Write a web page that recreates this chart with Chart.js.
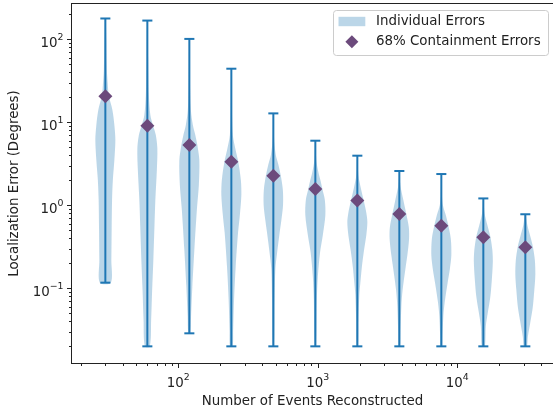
<!DOCTYPE html>
<html>
<head>
<meta charset="utf-8">
<title>Localization error vs. number of events</title>
<script src="https://cdn.jsdelivr.net/npm/chart.js@4/dist/chart.umd.min.js"></script>
<style>
  html, body { margin: 0; padding: 0; background: #ffffff; overflow: hidden; }
  canvas { display: block; }
</style>
</head>
<body>
<canvas id="chart" width="553" height="410"></canvas>
<script>
// Number of reconstructed events in each trial (violin positions)
const eventCounts = [30, 60, 120, 240, 480, 960, 1920, 3840, 7680, 15360, 30720];

// 68% containment error per trial (degrees)
const containment68 = [20.6, 9.1, 5.33, 3.35, 2.27, 1.57, 1.14, 0.786, 0.568, 0.411, 0.312];

// Extremes of the individual errors per trial (degrees)
const errorMax = [178, 168, 101, 44.2, 12.8, 6.0, 3.96, 2.59, 2.38, 1.21, 0.78];
const errorMin = [0.117, 0.02, 0.0287, 0.02, 0.02, 0.02, 0.02, 0.02, 0.02, 0.02, 0.02];

// Error levels (degrees) along each violin, top to bottom
const violinLevels = [
  [178, 98, 43, 28, 20.7, 14.2, 9.3, 6.1, 3.5, 2.02, 1.16, 0.51, 0.22, 0.117],
  [168, 56, 21.3, 12.2, 9.3, 7.0, 4.8, 2.66, 1.16, 0.51, 0.22, 0.096, 0.042, 0.02],
  [101, 32, 14.2, 9.3, 7.0, 5.3, 3.5, 1.76, 0.88, 0.29, 0.105, 0.046, 0.0287],
  [44.2, 14.2, 7.0, 4.8, 3.3, 2.02, 1.33, 0.76, 0.47, 0.18, 0.073, 0.031, 0.02],
  [12.8, 6.1, 4.0, 3.1, 2.25, 1.53, 1.01, 0.66, 0.44, 0.27, 0.17, 0.073, 0.02],
  [6.0, 3.5, 2.52, 1.91, 1.57, 1.16, 0.76, 0.44, 0.27, 0.138, 0.073, 0.02],
  [3.96, 2.32, 1.61, 1.13, 0.81, 0.63, 0.44, 0.29, 0.18, 0.127, 0.084, 0.042, 0.02],
  [2.59, 1.76, 1.16, 0.78, 0.54, 0.39, 0.25, 0.18, 0.096, 0.06, 0.031, 0.02],
  [2.38, 1.33, 1.01, 0.76, 0.57, 0.39, 0.25, 0.17, 0.117, 0.067, 0.046, 0.027, 0.02],
  [1.21, 0.81, 0.58, 0.42, 0.29, 0.21, 0.127, 0.079, 0.051, 0.035, 0.02],
  [0.78, 0.58, 0.42, 0.32, 0.22, 0.147, 0.096, 0.06, 0.039, 0.026, 0.02]
];

// Relative density of the individual errors at those levels (1 = widest)
const violinDensity = [
  [0.05, 0.1, 0.15, 0.25, 0.35, 0.7, 0.9, 1.0, 0.9, 0.75, 0.67, 0.63, 0.6, 0.55],
  [0.04, 0.08, 0.15, 0.3, 0.55, 0.85, 1.0, 0.95, 0.8, 0.7, 0.6, 0.48, 0.38, 0.25],
  [0.03, 0.06, 0.15, 0.35, 0.6, 0.8, 1.0, 0.95, 0.75, 0.5, 0.3, 0.17, 0.1],
  [0.03, 0.06, 0.15, 0.4, 0.7, 0.95, 1.0, 0.85, 0.67, 0.43, 0.27, 0.18, 0.13],
  [0.03, 0.08, 0.25, 0.5, 0.75, 0.95, 0.97, 0.8, 0.6, 0.38, 0.2, 0.13, 0.08],
  [0.03, 0.1, 0.3, 0.55, 0.7, 0.95, 1.0, 0.75, 0.47, 0.25, 0.15, 0.08],
  [0.03, 0.1, 0.35, 0.65, 0.9, 1.0, 0.9, 0.67, 0.45, 0.33, 0.2, 0.12, 0.08],
  [0.03, 0.1, 0.4, 0.7, 0.95, 0.97, 0.8, 0.63, 0.33, 0.2, 0.12, 0.08],
  [0.03, 0.06, 0.15, 0.45, 0.7, 0.95, 1.0, 0.85, 0.63, 0.33, 0.2, 0.12, 0.08],
  [0.03, 0.12, 0.4, 0.7, 0.9, 0.95, 0.85, 0.7, 0.45, 0.25, 0.15],
  [0.05, 0.2, 0.5, 0.75, 0.95, 1.0, 0.9, 0.75, 0.5, 0.25, 0.15]
];

// Labelled (major) ticks on both log axes
const xMajorTicks = [100, 1000, 10000];
const yMajorTicks = [0.1, 1, 10, 100];
const minorSignificands = [2, 3, 4, 5, 6, 7, 8, 9];

const seriesLabels = ['Individual Errors', '68% Containment Errors'];

// ---- styling ----
const FONT = 'DejaVu Sans';
const FONT_SIZE = 13.4;
const INK = '#222222';
const LINE_BLUE = '#1f77b4';
const BODY_FILL = 'rgba(31,119,180,0.3)';
const MARKER = '#6c4a7c';
const VIOLIN_HALF_DECADES = 0.0717; // widest half-width of a violin, in decades of x
const CAP_HALF_DECADES = 0.036;     // half-length of the min/max caps

const datasets = [];

datasets.push({
  type: 'line',
  label: seriesLabels[1],
  data: eventCounts.map((x, i) => ({ x, y: containment68[i] })),
  showLine: false,
  pointStyle: 'rectRot',
  pointRadius: 7,
  pointBackgroundColor: MARKER,
  pointBorderColor: MARKER,
  pointBorderWidth: 0,
  order: 0
});

eventCounts.forEach((x, i) => {
  const stemStyle = { type: 'line', borderColor: LINE_BLUE, borderWidth: 2, pointRadius: 0, fill: false, order: 1 };
  datasets.push(Object.assign({ data: [{ x, y: errorMin[i] }, { x, y: errorMax[i] }] }, stemStyle));
  [errorMin[i], errorMax[i]].forEach(v => {
    datasets.push(Object.assign({
      data: [{ x: x * Math.pow(10, -CAP_HALF_DECADES), y: v }, { x: x * Math.pow(10, CAP_HALF_DECADES), y: v }]
    }, stemStyle));
  });

  const lv = violinLevels[i], dn = violinDensity[i];
  const right = lv.map((y, j) => ({ x: x * Math.pow(10, VIOLIN_HALF_DECADES * dn[j]), y }));
  const left = lv.map((y, j) => ({ x: x * Math.pow(10, -VIOLIN_HALF_DECADES * dn[j]), y })).reverse();
  datasets.push({
    type: 'line',
    label: i === 0 ? seriesLabels[0] : '',
    data: right.concat(left),
    fill: 'shape',
    backgroundColor: BODY_FILL,
    borderColor: 'rgba(0,0,0,0)',
    borderWidth: 0,
    pointRadius: 0,
    tension: 0.3,
    order: 2
  });
});

function superscriptLabel(ctx, value, baseFont, expFont) {
  const exp = Math.round(Math.log10(value));
  const expText = exp < 0 ? '\u2212' + Math.abs(exp) : String(exp);
  ctx.font = baseFont;
  const wb = ctx.measureText('10').width;
  ctx.font = expFont;
  const we = ctx.measureText(expText).width;
  return { expText, wb, we };
}

function minorTicks(min, max) {
  const out = [];
  for (let e = Math.floor(Math.log10(min)); e <= Math.ceil(Math.log10(max)); e++) {
    minorSignificands.forEach(s => {
      const v = s * Math.pow(10, e);
      if (v >= min && v <= max) out.push(v);
    });
  }
  return out;
}

const axesPlugin = {
  id: 'axesPlugin',
  afterDraw(chart) {
    const { ctx, chartArea: a } = chart;
    const xs = chart.scales.x, ys = chart.scales.y;
    const baseFont = `${FONT_SIZE}px "${FONT}"`;
    const expFont = `${(FONT_SIZE * 0.7).toFixed(2)}px "${FONT}"`;
    ctx.save();
    ctx.strokeStyle = INK;
    ctx.fillStyle = INK;
    ctx.lineWidth = 1;

    // frame
    ctx.strokeRect(a.left - 0.5, a.top - 0.5, a.right - a.left + 1, a.bottom - a.top + 1);

    // x ticks
    const xTick = (v, len) => {
      const px = Math.round(xs.getPixelForValue(v)) + 0.5;
      ctx.beginPath(); ctx.moveTo(px, a.bottom); ctx.lineTo(px, a.bottom + len); ctx.stroke();
    };
    minorTicks(xs.min, xs.max).forEach(v => xTick(v, 3));
    xMajorTicks.forEach(v => xTick(v, 5));

    // y ticks
    const yTick = (v, len) => {
      const py = Math.round(ys.getPixelForValue(v)) + 0.5;
      ctx.beginPath(); ctx.moveTo(a.left, py); ctx.lineTo(a.left - len, py); ctx.stroke();
    };
    minorTicks(ys.min, ys.max).forEach(v => yTick(v, 3));
    yMajorTicks.forEach(v => yTick(v, 5));

    // tick labels as 10 with a raised exponent
    ctx.textBaseline = 'alphabetic';
    ctx.textAlign = 'left';
    xMajorTicks.forEach(v => {
      const px = xs.getPixelForValue(v);
      const { expText, wb, we } = superscriptLabel(ctx, v, baseFont, expFont);
      const x0 = px - (wb + we) / 2;
      ctx.font = baseFont; ctx.fillText('10', x0, a.bottom + 23.5);
      ctx.font = expFont; ctx.fillText(expText, x0 + wb, a.bottom + 17);
    });
    yMajorTicks.forEach(v => {
      const py = ys.getPixelForValue(v);
      const { expText, wb, we } = superscriptLabel(ctx, v, baseFont, expFont);
      const x0 = a.left - 8.5 - (wb + we);
      ctx.font = baseFont; ctx.fillText('10', x0, py + 7.3);
      ctx.font = expFont; ctx.fillText(expText, x0 + wb, py + 0.7);
    });

    // legend box in the upper right corner
    const bx = 333.5, by = 10.5, bw = 215, bh = 45, r = 3;
    ctx.beginPath();
    ctx.moveTo(bx + r, by);
    ctx.arcTo(bx + bw, by, bx + bw, by + bh, r);
    ctx.arcTo(bx + bw, by + bh, bx, by + bh, r);
    ctx.arcTo(bx, by + bh, bx, by, r);
    ctx.arcTo(bx, by, bx + bw, by, r);
    ctx.closePath();
    ctx.fillStyle = 'rgba(255,255,255,0.8)';
    ctx.fill();
    ctx.strokeStyle = '#cccccc';
    ctx.stroke();

    const bodyDs = chart.data.datasets.find(d => d.fill === 'shape');
    const markerDs = chart.data.datasets[0];
    ctx.fillStyle = bodyDs.backgroundColor;
    ctx.fillRect(338.5, 16.8, 26.8, 9.4);
    const mx = 351.9, my = 41.7, mr = 6.5;
    ctx.fillStyle = markerDs.pointBackgroundColor;
    ctx.beginPath();
    ctx.moveTo(mx - mr, my); ctx.lineTo(mx, my - mr);
    ctx.lineTo(mx + mr, my); ctx.lineTo(mx, my + mr);
    ctx.closePath(); ctx.fill();

    ctx.fillStyle = INK;
    ctx.font = baseFont;
    ctx.textBaseline = 'middle';
    ctx.fillText(bodyDs.label, 376, 21.6);
    ctx.fillText(markerDs.label, 376, 41.7);
    ctx.restore();
  }
};

new Chart(document.getElementById('chart'), {
  type: 'scatter',
  data: { datasets },
  plugins: [axesPlugin],
  options: {
    responsive: false,
    animation: false,
    devicePixelRatio: 1,
    layout: { autoPadding: false, padding: { top: 4, right: 0, bottom: 0, left: 0 } },
    plugins: { legend: { display: false }, tooltip: { enabled: false } },
    scales: {
      x: {
        type: 'logarithmic',
        min: 17.3,
        max: 48500,
        grid: { display: false },
        border: { display: false },
        ticks: { display: false },
        title: {
          display: true,
          text: 'Number of Events Reconstructed',
          color: INK,
          font: { family: FONT, size: FONT_SIZE },
          padding: { top: 0, bottom: 0 }
        },
        afterFit: s => { s.height = 47; }
      },
      y: {
        type: 'logarithmic',
        min: 0.0126,
        max: 266,
        grid: { display: false },
        border: { display: false },
        ticks: { display: false },
        title: {
          display: true,
          text: 'Localization Error (Degrees)',
          color: INK,
          font: { family: FONT, size: FONT_SIZE },
          padding: { top: 6, bottom: 0 }
        },
        afterFit: s => { s.width = 72; }
      }
    }
  }
});
</script>
</body>
</html>
